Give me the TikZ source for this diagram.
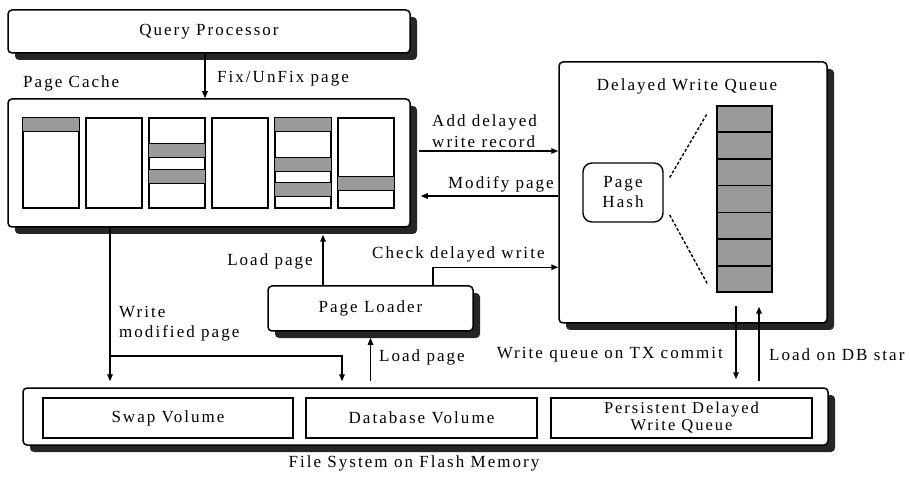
\documentclass[tikz,border=0pt]{standalone}
\usepackage{fontspec}
\setmainfont{Liberation Serif}[LetterSpace=12]
\usetikzlibrary{arrows.meta,shadows,calc}

\begin{document}
\begin{tikzpicture}[x=1pt,y=-1pt,
  font=\fontsize{17}{20}\selectfont,
  box/.style={draw,fill=white,line width=1.5pt,rounded corners=4pt,inner sep=0pt,
    drop shadow={shadow xshift=7pt,shadow yshift=-7pt,fill=black!85,opacity=1}},
  plain/.style={draw,fill=white,line width=1.4pt,inner sep=0pt},
  page/.style={draw,line width=1.4pt,minimum width=56pt,minimum height=90pt,inner sep=0pt},
  band/.style={draw,fill=black!40,line width=1.4pt},
  arr/.style={-{Triangle[length=7pt,width=5.5pt]},line width=1.4pt},
  lbl/.style={inner sep=0pt}]
\useasboundingbox (0,0) rectangle (911,489);

\node[box,minimum width=402pt,minimum height=43pt] (qp) at (209,31.5) {Query Processor};
\node[box,minimum width=402pt,minimum height=128pt] (cache) at (209,163) {};
\node[lbl,anchor=west] (cachelbl) at (23,83) {Page Cache};
\foreach \i in {1,...,6}
  \node[page] (p\i) at ({51+63*(\i-1)},163) {};
\foreach \pg/\a in {1/0,3/26,3/52,5/0,5/40,5/65,6/59}
  \draw[band] ([yshift=-\a pt]p\pg.north west) rectangle ([yshift={-(\a+14)*1pt}]p\pg.north east);

\node[box,minimum width=268pt,minimum height=261pt] (dwq) at (693,192.5) {};
\node[lbl] (dwqlbl) at (687,86) {Delayed Write Queue};
\node[plain,rounded corners=9pt,minimum width=80pt,minimum height=59pt,align=center] (hash) at (623,192.5) {Page\\Hash};
\node[draw,fill=black!40,line width=1.4pt,minimum width=55pt,minimum height=186pt,inner sep=0pt] (q) at (744.5,199) {};
\foreach \k in {1,...,6}
  \draw[line width=1.4pt] ($(q.north west)!\k/7!(q.south west)$) -- ($(q.north east)!\k/7!(q.south east)$);
\draw[line width=1.4pt,dash pattern=on 3pt off 2pt] ([xshift=6pt,yshift=15pt]hash.east) -- ([xshift=-9pt,yshift=-8pt]q.north west);
\draw[line width=1.4pt,dash pattern=on 3pt off 2pt] ([xshift=6pt,yshift=-22.5pt]hash.east) -- ([xshift=-9pt,yshift=9pt]q.south west);

\node[box,minimum width=205pt,minimum height=45pt] (pl) at (370.5,308.5) {Page Loader};
\node[box,minimum width=805pt,minimum height=57pt] (fs) at (425.5,416.5) {};
\node[plain,minimum width=250pt,minimum height=40pt] (swap) at (168,418) {Swap Volume};
\node[plain,minimum width=231pt,minimum height=40pt] (db) at (421.5,418) {Database Volume};
\node[plain,minimum width=261pt,minimum height=40pt,align=center,font=\fontsize{16.5}{17}\selectfont] (pdwq) at (681.5,418) {Persistent Delayed\\Write Queue};
\node[lbl] (fslbl) at (414,463) {File System on Flash Memory};

\coordinate (fixX) at (205,0);
\draw[arr] (qp.south -| fixX) -- (cache.north -| fixX);
\node[lbl,anchor=west] (fixlbl) at (217,79) {Fix/UnFix page};

\coordinate (addA) at ([xshift=8pt,yshift=12pt]cache.east);
\draw[arr] (addA) -- (addA -| dwq.west);
\node[lbl,anchor=west,align=left,font=\fontsize{17}{21}\selectfont] (addlbl) at (432,131) {Add delayed\\write record};

\coordinate (modB) at ([xshift=10pt,yshift=-33pt]cache.east);
\draw[arr] (modB -| dwq.west) -- (modB);
\node[lbl,anchor=east] (modlbl) at (554,184) {Modify page};

\coordinate (chk) at ([xshift=62.5pt,yshift=18pt]pl.north);
\draw[arr] ([xshift=62.5pt]pl.north) -- (chk) -- (chk -| dwq.west);
\node[lbl,anchor=west] (chklbl) at (372,254) {Check delayed write};

\coordinate (ldX) at (323,0);
\draw[arr,shorten >=7pt] (pl.north -| ldX) -- (cache.south -| ldX);
\node[lbl,anchor=east] (ldlbl) at (313,261) {Load page};

\coordinate (wrK) at (110,356);
\coordinate (dbX) at (342,0);
\draw[arr,shorten >=6pt] (cache.south -| wrK) -- (fs.north -| wrK);
\draw[arr,shorten >=6pt] (wrK) -| (fs.north -| dbX);
\node[lbl,anchor=west,align=left] (wrlbl) at (119,324) {Write\\modified page};

\draw[arr,shorten <=6pt,shorten >=6pt] (fs.north -| pl.south) -- (pl.south);
\node[lbl,anchor=west] (ld2lbl) at (379,357) {Load page};

\coordinate (wqX) at (736,0);
\coordinate (dbsX) at (759,0);
\draw[arr,shorten <=13pt,shorten >=8pt] (q.south -| wqX) -- (fs.north -| wqX);
\draw[arr,shorten <=6pt,shorten >=14pt] (fs.north -| dbsX) -- (q.south -| dbsX);
\node[lbl,anchor=east] (wqlbl) at (723,355) {Write queue on TX commit};
\node[lbl,anchor=west] (dbslbl) at (769,355) {Load on DB star};
\end{tikzpicture}
\end{document}
